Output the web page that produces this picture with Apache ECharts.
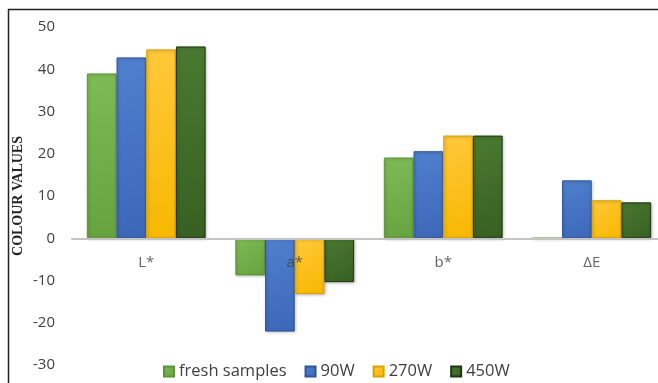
<!DOCTYPE html>
<html>
<head>
<meta charset="utf-8">
<script src="https://cdn.jsdelivr.net/npm/echarts@6/dist/echarts.min.js"></script>
<style>
html,body{margin:0;padding:0;background:#fff;}
#c{width:658px;height:383px;}
</style>
</head>
<body>
<div id="c"></div>
<script>
var categories = ['L*', 'a*', 'b*', '\u0394E'];
var freshSamples = [39.0, -8.8, 19.1, 0];
var w90 = [42.8, -22.1, 20.6, 13.7];
var w270 = [44.7, -13.2, 24.3, 9.0];
var w450 = [45.4, -10.4, 24.3, 8.5];
var yTicks = [-30, -20, -10, 0, 10, 20, 30, 40, 50];
var labelBase = [0, 0, 0, 0];

function grad(top, bottom) {
  return new echarts.graphic.LinearGradient(0, 0, 1, 1, [
    {offset: 0, color: top}, {offset: 1, color: bottom}
  ]);
}
function bar(name, data, c1, c2, border) {
  return {
    name: name, type: 'bar', data: data,
    barGap: '0%', barCategoryGap: '20%',
    itemStyle: {
      color: grad(c1, c2), borderColor: border, borderWidth: 1,
      shadowBlur: 3, shadowColor: 'rgba(0,0,0,0.25)', shadowOffsetX: 1, shadowOffsetY: 1
    }
  };
}

var chart = echarts.init(document.getElementById('c'), null, {renderer: 'canvas'});
var series = [
  bar('fresh samples', freshSamples, '#7fbc55', '#66a23e', '#5e9438'),
  bar('90W', w90, '#5080cf', '#3c67b8', '#2f5597'),
  bar('270W', w270, '#ffc83a', '#f7b800', '#d9a200'),
  bar('450W', w450, '#4a7a31', '#375f22', '#1e3512')
];
series.push({
  name: 'cat-labels', type: 'scatter', data: labelBase, symbolSize: 0, silent: true, z: 10,
  label: {
    show: true, position: 'bottom', distance: 17,
    formatter: function (p) { return categories[p.dataIndex]; },
    fontFamily: 'Open Sans', fontSize: 15, color: '#404040'
  }
});
chart.setOption({
  animation: false,
  backgroundColor: '#fff',
  color: ['#70AD47', '#4472C4', '#FFC000', '#3F6B27'],
  grid: {left: 72, top: 27, width: 594, height: 338, containLabel: false, outerBoundsMode: 'none'},
  legend: {
    top: 358, left: 158,
    itemWidth: 10, itemHeight: 10, itemGap: 18,
    icon: 'rect',
    textStyle: {fontFamily: 'Open Sans', fontSize: 16.5, color: '#404040'},
    data: ['fresh samples', '90W', '270W', '450W']
  },
  xAxis: {
    type: 'category', data: categories,
    axisLine: {onZero: true, lineStyle: {color: '#c4c4c4', width: 2}},
    axisTick: {show: false},
    axisLabel: {show: false},
    z: 3
  },
  yAxis: {
    type: 'value', min: yTicks[0], max: yTicks[yTicks.length - 1], interval: 10,
    name: 'COLOUR VALUES', nameLocation: 'middle', nameGap: 54, nameRotate: 90,
    nameMoveOverlap: false,
    nameTextStyle: {fontFamily: 'Liberation Serif', fontWeight: 'bold', fontSize: 14, color: '#222', verticalAlign: 'middle'},
    axisLine: {show: false}, axisTick: {show: false},
    splitLine: {show: false},
    axisLabel: {margin: 17, fontFamily: 'Open Sans', fontSize: 15, color: '#404040'}
  },
  graphic: [
    {type: 'line', shape: {x1: 8, y1: 9.5, x2: 658, y2: 9.5}, style: {stroke: '#222', lineWidth: 1.5}},
    {type: 'line', shape: {x1: 8.5, y1: 9, x2: 8.5, y2: 383}, style: {stroke: '#222', lineWidth: 1.5}}
  ],
  series: series
});
</script>
</body>
</html>
